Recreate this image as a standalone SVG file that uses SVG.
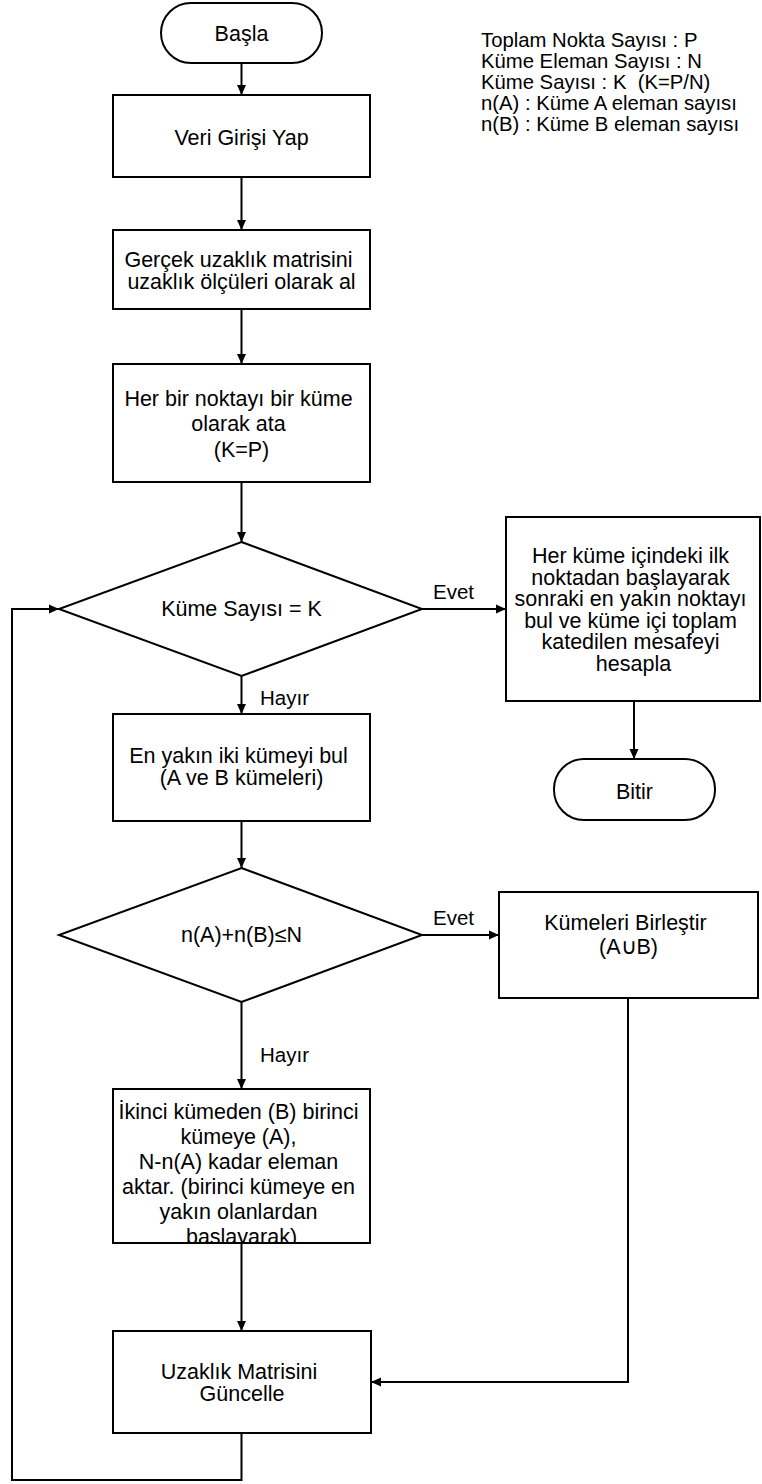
<svg xmlns="http://www.w3.org/2000/svg" width="762" height="1484" viewBox="0 0 762 1484">
  <style>
    .box { fill: #ffffff; stroke: #000000; stroke-width: 2; }
    .edge { fill: none; stroke: #000000; stroke-width: 2; }
    .t { font-family: "Liberation Sans", Arial, sans-serif; font-size: 21.5px; fill: #000000; text-anchor: middle; }
    .lbl { font-family: "Liberation Sans", Arial, sans-serif; font-size: 20.5px; fill: #000000; }
    .leg { font-family: "Liberation Sans", Arial, sans-serif; font-size: 20.3px; fill: #000000; }
  </style>
  <defs>
    <marker id="arrow" markerWidth="10" markerHeight="10" refX="10" refY="5" orient="auto" markerUnits="userSpaceOnUse">
      <path d="M0,0.5 L10,5 L0,9.5 Z" fill="#000000"/>
    </marker>
    <clipPath id="clip-transfer">
      <rect x="113" y="1089" width="257" height="154"/>
    </clipPath>
  </defs>

  <rect x="0" y="0" width="762" height="1484" fill="#ffffff"/>

  <!-- legend -->
  <g id="legend">
    <text class="leg" x="481" y="47">Toplam Nokta Sayısı : P</text>
    <text class="leg" x="481" y="68">Küme Eleman Sayısı : N</text>
    <text class="leg" x="481" y="89" xml:space="preserve">Küme Sayısı : K  (K=P/N)</text>
    <text class="leg" x="481" y="110">n(A) : Küme A eleman sayısı</text>
    <text class="leg" x="481" y="131">n(B) : Küme B eleman sayısı</text>
  </g>

  <!-- connectors -->
  <g id="connectors">
    <line class="edge" x1="241.5" y1="63" x2="241.5" y2="95" marker-end="url(#arrow)"/>
    <line class="edge" x1="241.5" y1="177" x2="241.5" y2="230" marker-end="url(#arrow)"/>
    <line class="edge" x1="241.5" y1="309" x2="241.5" y2="364" marker-end="url(#arrow)"/>
    <line class="edge" x1="241.5" y1="482" x2="241.5" y2="542" marker-end="url(#arrow)"/>
    <line class="edge" x1="422" y1="609" x2="506" y2="609" marker-end="url(#arrow)"/>
    <line class="edge" x1="634" y1="701" x2="634" y2="759" marker-end="url(#arrow)"/>
    <line class="edge" x1="241.5" y1="676" x2="241.5" y2="714" marker-end="url(#arrow)"/>
    <line class="edge" x1="241.5" y1="821" x2="241.5" y2="868" marker-end="url(#arrow)"/>
    <line class="edge" x1="422" y1="935" x2="499" y2="935" marker-end="url(#arrow)"/>
    <line class="edge" x1="241.5" y1="1002" x2="241.5" y2="1089" marker-end="url(#arrow)"/>
    <line class="edge" x1="241.5" y1="1243" x2="241.5" y2="1331" marker-end="url(#arrow)"/>
    <polyline class="edge" points="628,998 628,1382 371,1382" marker-end="url(#arrow)"/>
    <polyline class="edge" points="241.5,1433 241.5,1480 12,1480 12,609 59,609" marker-end="url(#arrow)"/>
    <text class="lbl" x="433" y="599">Evet</text>
    <text class="lbl" x="260" y="705">Hayır</text>
    <text class="lbl" x="433" y="925">Evet</text>
    <text class="lbl" x="260" y="1062">Hayır</text>
  </g>

  <!-- start terminal -->
  <g id="start">
    <rect class="box" x="161" y="3" width="161" height="60" rx="30" ry="30"/>
    <text class="t" x="241.5" y="41">Başla</text>
  </g>

  <g id="input">
    <rect class="box" x="113" y="95" width="257" height="82"/>
    <text class="t" x="241.5" y="145">Veri Girişi Yap</text>
  </g>

  <g id="distance-matrix">
    <rect class="box" x="113" y="230" width="257" height="79"/>
    <text class="t">
      <tspan x="241.5" y="267">Gerçek uzaklık matrisini</tspan>
      <tspan x="241.5" y="289">uzaklık ölçüleri olarak al</tspan>
    </text>
  </g>

  <g id="assign-clusters">
    <rect class="box" x="113" y="364" width="257" height="118"/>
    <text class="t">
      <tspan x="241.5" y="406">Her bir noktayı bir küme</tspan>
      <tspan x="241.5" y="431">olarak ata</tspan>
      <tspan x="241.5" y="457">(K=P)</tspan>
    </text>
  </g>

  <g id="check-count">
    <polygon class="box" points="241.5,542 422,609 241.5,676 59,609"/>
    <text class="t" x="241.5" y="616">Küme Sayısı = K</text>
  </g>

  <g id="route-length">
    <rect class="box" x="506" y="517" width="254" height="184"/>
    <text class="t">
      <tspan x="633.5" y="563">Her küme içindeki ilk</tspan>
      <tspan x="633.5" y="584.5">noktadan başlayarak</tspan>
      <tspan x="633.5" y="606">sonraki en yakın noktayı</tspan>
      <tspan x="633.5" y="627.5">bul ve küme içi toplam</tspan>
      <tspan x="633.5" y="649">katedilen mesafeyi</tspan>
      <tspan x="633.5" y="670.5">hesapla</tspan>
    </text>
  </g>

  <g id="end">
    <rect class="box" x="554" y="759" width="161" height="61" rx="30" ry="30"/>
    <text class="t" x="634.5" y="799">Bitir</text>
  </g>

  <g id="nearest-pair">
    <rect class="box" x="113" y="714" width="257" height="107"/>
    <text class="t">
      <tspan x="241.5" y="763">En yakın iki kümeyi bul</tspan>
      <tspan x="241.5" y="785">(A ve B kümeleri)</tspan>
    </text>
  </g>

  <g id="check-size">
    <polygon class="box" points="241.5,868 422,935 241.5,1002 59,935"/>
    <text class="t" x="241.5" y="942">n(A)+n(B)≤N</text>
  </g>

  <g id="merge">
    <rect class="box" x="499" y="892" width="259" height="106"/>
    <text class="t">
      <tspan x="628.5" y="930">Kümeleri Birleştir</tspan>
      <tspan x="628.5" y="954">(A∪B)</tspan>
    </text>
  </g>

  <g id="transfer">
    <rect class="box" x="113" y="1089" width="257" height="154"/>
    <g clip-path="url(#clip-transfer)">
      <text class="t">
        <tspan x="241.5" y="1119">İkinci kümeden (B) birinci</tspan>
        <tspan x="241.5" y="1144">kümeye (A),</tspan>
        <tspan x="241.5" y="1169">N-n(A) kadar eleman</tspan>
        <tspan x="241.5" y="1194">aktar. (birinci kümeye en</tspan>
        <tspan x="241.5" y="1219">yakın olanlardan</tspan>
        <tspan x="241.5" y="1244">başlayarak)</tspan>
      </text>
    </g>
  </g>

  <g id="update-matrix">
    <rect class="box" x="113" y="1331" width="258" height="102"/>
    <text class="t">
      <tspan x="242" y="1379">Uzaklık Matrisini</tspan>
      <tspan x="242" y="1401">Güncelle</tspan>
    </text>
  </g>
</svg>
